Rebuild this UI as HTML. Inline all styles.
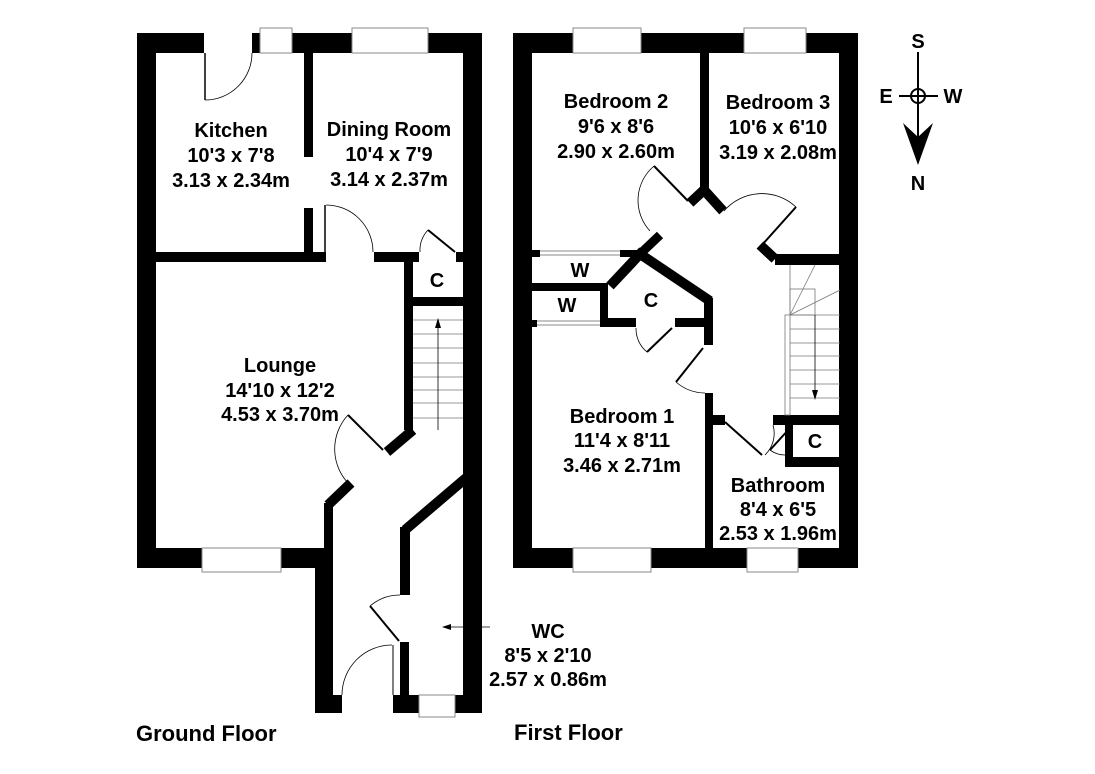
<!DOCTYPE html>
<html><head><meta charset="utf-8"><style>
html,body{margin:0;padding:0;background:#fff;}
svg{display:block;}
text{font-family:"Liberation Sans",Arial,sans-serif;font-weight:bold;fill:#000;text-anchor:middle;}
</style></head><body>
<svg width="1095" height="774" viewBox="0 0 1095 774" xmlns="http://www.w3.org/2000/svg">
<g fill="#000">
<!-- GROUND FLOOR -->
<rect x="137" y="33" width="67" height="20"/>
<rect x="252" y="33" width="8" height="20"/>
<rect x="292" y="33" width="60" height="20"/>
<rect x="428" y="33" width="54" height="20"/>
<rect x="137" y="33" width="19" height="535"/>
<rect x="463" y="33" width="19" height="680"/>
<rect x="304" y="53" width="9" height="104"/>
<rect x="304" y="208" width="9" height="44"/>
<rect x="137" y="252" width="189" height="10"/>
<rect x="374" y="252" width="45" height="10"/>
<rect x="456" y="252" width="26" height="10"/>
<rect x="404" y="262" width="9" height="168"/>
<rect x="413" y="297" width="50" height="9"/>
<rect x="137" y="548" width="65" height="20"/>
<rect x="281" y="548" width="52" height="20"/>
<rect x="315" y="548" width="18" height="165"/>
<rect x="324" y="503" width="9" height="50"/>
<rect x="400" y="527" width="10" height="68"/>
<rect x="400" y="642" width="9" height="71"/>
<rect x="315" y="695" width="27" height="18"/>
<rect x="393" y="695" width="26" height="18"/>
<rect x="455" y="695" width="27" height="18"/>
</g>
<g stroke="#000" fill="none">
<polyline points="413,430 387,452" stroke-width="10"/>
<polyline points="328,505 351,483" stroke-width="10"/>
<polyline points="466,478 405,530" stroke-width="10"/>
<line x1="205" y1="53" x2="205" y2="100" stroke-width="1.5"/>
<path d="M205,100 A47,47 0 0 0 252,53" stroke-width="0.8"/>
<line x1="325" y1="205" x2="325" y2="252" stroke-width="1.5"/>
<path d="M326,205 A47,47 0 0 1 373,252" stroke-width="0.8"/>
<line x1="428" y1="230" x2="455" y2="252" stroke-width="2"/>
<path d="M428,230 A30,30 0 0 0 420,252" stroke-width="0.8"/>
<line x1="348" y1="415" x2="383" y2="450" stroke-width="2"/>
<path d="M348,415 A50,50 0 0 0 350,485" stroke-width="0.8"/>
<line x1="370" y1="606" x2="399" y2="641" stroke-width="2"/>
<path d="M370,606 A46,46 0 0 1 400,595" stroke-width="0.8"/>
<line x1="393" y1="645" x2="393" y2="695" stroke-width="1"/>
<path d="M342,695 A50,50 0 0 1 392,645" stroke-width="0.8"/>
<rect x="260" y="28" width="32" height="25" stroke="#888" stroke-width="1"/>
<rect x="352" y="28" width="76" height="25" stroke="#888" stroke-width="1"/>
<rect x="202" y="548" width="79" height="24" stroke="#888" stroke-width="1"/>
<rect x="419" y="695" width="36" height="22" stroke="#888" stroke-width="1"/>
<line x1="463" y1="468" x2="482" y2="468" stroke-width="1"/>
<g stroke="#777" stroke-width="0.8">
<line x1="413" y1="320" x2="463" y2="320"/><line x1="413" y1="334" x2="463" y2="334"/>
<line x1="413" y1="348" x2="463" y2="348"/><line x1="413" y1="363" x2="463" y2="363"/>
<line x1="413" y1="377" x2="463" y2="377"/><line x1="413" y1="390" x2="463" y2="390"/>
<line x1="413" y1="403" x2="463" y2="403"/><line x1="413" y1="418" x2="463" y2="418"/>
</g>
<line x1="438" y1="322" x2="438" y2="430" stroke-width="0.8"/>
<line x1="443" y1="627" x2="490" y2="627" stroke-width="0.8"/>
</g>
<polygon points="438,318 435,328 441,328"/>
<polygon points="442,627 451,624 451,630"/>

<!-- FIRST FLOOR -->
<g fill="#000">
<rect x="513" y="33" width="60" height="20"/>
<rect x="641" y="33" width="103" height="20"/>
<rect x="806" y="33" width="52" height="20"/>
<rect x="513" y="33" width="19" height="535"/>
<rect x="839" y="33" width="19" height="535"/>
<rect x="700" y="53" width="9" height="140"/>
<rect x="513" y="250" width="27" height="7"/>
<rect x="620" y="250" width="22" height="7"/>
<rect x="513" y="283" width="95" height="8"/>
<rect x="600" y="283" width="8" height="44"/>
<rect x="513" y="320" width="24" height="7"/>
<rect x="600" y="318" width="36" height="9"/>
<rect x="675" y="318" width="38" height="9"/>
<rect x="704" y="298" width="9" height="47"/>
<rect x="775" y="254" width="83" height="11"/>
<rect x="705" y="393" width="8" height="175"/>
<rect x="705" y="415" width="20" height="10"/>
<rect x="773" y="415" width="85" height="10"/>
<rect x="785" y="425" width="8" height="42"/>
<rect x="785" y="457" width="73" height="10"/>
<rect x="513" y="548" width="60" height="20"/>
<rect x="651" y="548" width="96" height="20"/>
<rect x="798" y="548" width="60" height="20"/>
</g>
<g stroke="#000" fill="none">
<polyline points="690,203 704,190 723,211" stroke-width="10"/>
<polyline points="660,235 640,254" stroke-width="9"/>
<polyline points="610,286 640,254 710,301" stroke-width="10"/>
<polyline points="760,245 775,259" stroke-width="10"/>
<line x1="654" y1="166" x2="688" y2="201" stroke-width="2"/>
<path d="M654,166 A45,45 0 0 0 650,231" stroke-width="0.8"/>
<line x1="762" y1="245" x2="796" y2="207" stroke-width="2"/>
<path d="M724,211 A50,50 0 0 1 796,207" stroke-width="0.8"/>
<line x1="672" y1="328" x2="647" y2="352" stroke-width="2"/>
<path d="M636,328 A30,30 0 0 0 647,352" stroke-width="0.8"/>
<line x1="703" y1="348" x2="676" y2="382" stroke-width="2"/>
<path d="M676,382 A45,45 0 0 0 705,393" stroke-width="0.8"/>
<line x1="725" y1="422" x2="762" y2="455" stroke-width="2"/>
<path d="M765,455 A30,30 0 0 0 773,425" stroke-width="0.8"/>
<line x1="790" y1="428" x2="770" y2="450" stroke-width="2"/>
<path d="M770,450 A25,25 0 0 0 785,455" stroke-width="0.8"/>
<rect x="573" y="28" width="68" height="25" stroke="#888" stroke-width="1"/>
<rect x="744" y="28" width="62" height="25" stroke="#888" stroke-width="1"/>
<rect x="573" y="548" width="78" height="24" stroke="#888" stroke-width="1"/>
<rect x="747" y="548" width="51" height="24" stroke="#888" stroke-width="1"/>
<g stroke="#888" stroke-width="1">
<line x1="540" y1="251" x2="620" y2="251"/><line x1="540" y1="255" x2="620" y2="255"/>
<line x1="537" y1="321" x2="600" y2="321"/><line x1="537" y1="325" x2="600" y2="325"/>
</g>
<g stroke="#777" stroke-width="0.8">
<rect x="785" y="315" width="5" height="100"/>
<line x1="790" y1="315" x2="815" y2="265"/><line x1="790" y1="315" x2="840" y2="290"/>
<rect x="790" y="289" width="25" height="26"/>
<line x1="790" y1="265" x2="790" y2="315"/>
<line x1="790" y1="329" x2="840" y2="329"/><line x1="790" y1="343" x2="840" y2="343"/>
<line x1="790" y1="356" x2="840" y2="356"/><line x1="790" y1="370" x2="840" y2="370"/>
<line x1="790" y1="384" x2="840" y2="384"/><line x1="790" y1="398" x2="840" y2="398"/>
<line x1="790" y1="315" x2="840" y2="315"/>
</g>
<line x1="815" y1="315" x2="815" y2="398" stroke-width="0.8"/>
<line x1="918" y1="52" x2="918" y2="140" stroke-width="2"/>
<line x1="899" y1="96" x2="938" y2="96" stroke-width="2"/>
<circle cx="918" cy="96" r="7" stroke-width="2"/>
</g>
<polygon points="815,400 812,390 818,390"/>
<polygon points="903,123 918,137 933,123 918,165"/>

<g font-size="20">
<text x="231" y="137">Kitchen</text><text x="231" y="162">10'3 x 7'8</text><text x="231" y="187">3.13 x 2.34m</text>
<text x="389" y="136">Dining Room</text><text x="389" y="161">10'4 x 7'9</text><text x="389" y="186">3.14 x 2.37m</text>
<text x="280" y="372">Lounge</text><text x="280" y="397">14'10 x 12'2</text><text x="280" y="421">4.53 x 3.70m</text>
<text x="548" y="638">WC</text><text x="548" y="662">8'5 x 2'10</text><text x="548" y="686">2.57 x 0.86m</text>
<text x="616" y="108">Bedroom 2</text><text x="616" y="133">9'6 x 8'6</text><text x="616" y="158">2.90 x 2.60m</text>
<text x="778" y="109">Bedroom 3</text><text x="778" y="134">10'6 x 6'10</text><text x="778" y="159">3.19 x 2.08m</text>
<text x="622" y="423">Bedroom 1</text><text x="622" y="447">11'4 x 8'11</text><text x="622" y="472">3.46 x 2.71m</text>
<text x="778" y="492">Bathroom</text><text x="778" y="516">8'4 x 6'5</text><text x="778" y="540">2.53 x 1.96m</text>
<text x="437" y="287">C</text><text x="651" y="307">C</text><text x="815" y="448">C</text>
<text x="580" y="277">W</text><text x="567" y="312">W</text>
<text x="918" y="48">S</text><text x="918" y="190">N</text>
<text x="886" y="103">E</text><text x="953" y="103">W</text>
</g>
<g font-size="22">
<text x="136" y="741" style="text-anchor:start">Ground Floor</text>
<text x="514" y="740" style="text-anchor:start">First Floor</text>
</g>
</svg>
</body></html>
